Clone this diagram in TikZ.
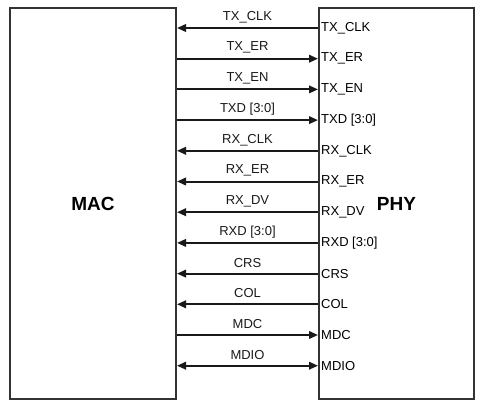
\documentclass[tikz,border=0pt]{standalone}
\usepackage{fontspec}
\setmainfont{Liberation Sans}
\usetikzlibrary{arrows.meta}

\begin{document}
\begin{tikzpicture}[
  x=1pt, y=-1pt,
  box/.style={rectangle, draw=black!80, line width=2pt, anchor=north west, minimum width=#1, minimum height=391pt, font=\fontsize{19}{22}\selectfont\bfseries},
  port/.style={anchor=west, inner sep=3pt, font=\fontsize{13}{15}\selectfont},
  lbl/.style={midway, yshift=11pt, font=\fontsize{13}{15}\selectfont},
  wire/.style={line width=2pt, black!90},
  tophy/.style={-{Triangle[length=9pt,width=7.5pt]}},
  tomac/.style={{Triangle[length=9pt,width=7.5pt]}-},
  both/.style={{Triangle[length=9pt,width=7.5pt]}-{Triangle[length=9pt,width=7.5pt]}}
]
\useasboundingbox (0,0) rectangle (480,405);
\node[box=166pt] (mac) at (9,7) {MAC};
\node[box=155pt] (phy) at (318,7) {PHY};

\foreach \i/\sig/\dir in {0/TX\_CLK/tomac, 1/TX\_ER/tophy, 2/TX\_EN/tophy, 3/TXD [3:0]/tophy,
    4/RX\_CLK/tomac, 5/RX\_ER/tomac, 6/RX\_DV/tomac, 7/RXD [3:0]/tomac,
    8/CRS/tomac, 9/COL/tomac, 10/MDC/tophy, 11/MDIO/both} {
  \node[port] (p\i) at (318, 28+30.7*\i) {\sig};
  \draw[wire,\dir] (mac.east |- p\i.west) -- node[lbl]{\sig} (p\i.west);
}
\end{tikzpicture}
\end{document}
